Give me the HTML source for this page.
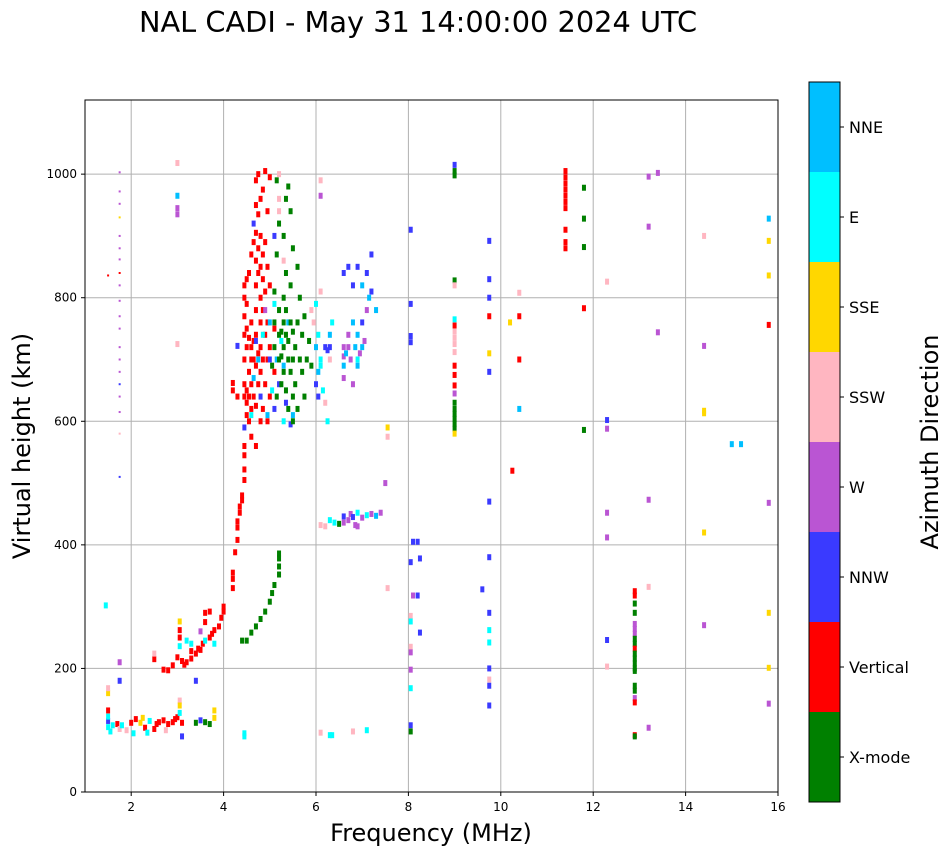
<!DOCTYPE html>
<html><head><meta charset="utf-8"><style>
body{margin:0;background:#fff;font-family:"DejaVu Sans",sans-serif}
svg text{font-family:"DejaVu Sans",sans-serif}
</style></head><body>
<svg id="chart" width="951" height="856" viewBox="0 0 951 856" xmlns="http://www.w3.org/2000/svg">
<text x="418" y="32" font-size="28.8" text-anchor="middle">NAL CADI - May 31 14:00:00 2024 UTC</text>
<g id="grid"></g>
<g id="marks"></g>
<rect x="85" y="100" width="693" height="692" fill="none" stroke="#000" stroke-width="1"/>
<g id="ticks"></g>
<text x="431" y="841" font-size="24" text-anchor="middle">Frequency (MHz)</text>
<text transform="translate(30,446) rotate(-90)" font-size="24" text-anchor="middle">Virtual height (km)</text>
<g id="cbar"></g>
<text transform="translate(938,442) rotate(-90)" font-size="24" text-anchor="middle">Azimuth Direction</text>
</svg>
<script>
const categories=["X-mode","Vertical","NNW","W","SSW","SSE","E","NNE"];
const catColors=["#008000","#ff0000","#3a3aff","#ba55d3","#ffb6c1","#ffd700","#00ffff","#00bfff"];
const xTicks=[2,4,6,8,10,12,14,16];
const yTicks=[0,200,400,600,800,1000];
// [frequency MHz, virtual height km, direction index]
const obs=[
[1.5,105,6],[1.5,115,2],[1.5,122,6],[1.5,132,1],[1.55,98,6],[1.6,108,6],[1.7,110,1],[1.75,102,4],[1.8,108,6],[1.9,100,4],[2.0,112,1],[2.05,95,6],[2.1,118,1],[2.2,112,5],[2.25,120,5],[2.3,104,1],[2.35,96,6],[2.4,115,6],[2.5,102,1],[2.55,110,1],[2.6,113,1],[2.7,116,1],[2.75,100,4],[2.8,110,1],[2.9,113,1],[2.95,118,1],[3.0,121,1],[3.05,128,6],[3.1,112,1],[3.4,112,0],[3.5,116,2],[3.6,113,0],[3.7,110,0],[3.8,120,5],[3.8,132,5],[1.5,160,5],[1.5,168,4],[1.45,302,6],[3.05,148,4],[3.05,140,5],[3.1,90,2],[4.45,95,6],[4.45,90,6],[6.3,92,6],[6.35,92,6],[6.1,96,4],[6.8,98,4],[7.1,100,6],
[2.5,215,1],[2.5,224,4],[2.7,198,1],[2.8,197,1],[2.9,205,1],[3.0,218,1],[3.05,236,6],[3.05,250,1],[3.05,262,1],[3.05,276,5],[3.1,212,1],[3.15,206,1],[3.2,210,1],[3.3,216,1],[3.3,240,6],[3.4,224,1],[3.45,232,1],[3.5,230,1],[3.5,260,3],[3.55,240,1],[3.6,245,6],[3.6,275,1],[3.6,290,1],[3.7,250,1],[3.75,256,1],[3.8,262,1],[3.8,240,6],[3.9,268,1],[3.95,282,1],[4.0,292,1],[4.0,300,1],[3.7,292,1],[3.4,180,2],[3.3,228,1],[3.2,245,6],
[4.2,330,1],[4.2,345,1],[4.2,355,1],[4.25,388,1],[4.3,408,1],[4.3,428,1],[4.3,438,1],[4.35,452,1],[4.35,462,1],[4.4,472,1],[4.4,480,1],[4.45,505,1],[4.45,522,1],[4.45,545,1],[4.45,560,1],[4.45,590,2],[4.2,650,1],[4.2,662,1],[4.3,640,1],[4.3,722,2],
[4.4,245,0],[4.5,245,0],[4.6,258,0],[4.7,268,0],[4.8,280,0],[4.9,292,0],[5.0,308,0],[5.05,322,0],[5.1,335,0],[5.2,352,0],[5.2,365,0],[5.2,378,0],[5.2,386,0],
[4.45,640,1],[4.45,660,1],[4.45,700,1],[4.45,740,1],[4.45,770,1],[4.45,800,1],[4.45,820,1],[4.5,610,1],[4.5,630,1],[4.5,650,1],[4.5,720,1],[4.5,750,1],[4.5,790,1],[4.5,830,1],[4.55,600,1],[4.55,640,1],[4.55,680,1],[4.55,735,1],[4.55,840,1],[4.6,575,1],[4.6,620,1],[4.6,660,1],[4.6,700,1],[4.6,720,1],[4.6,760,1],[4.6,870,1],[4.65,640,1],[4.65,700,1],[4.65,730,1],[4.65,890,1],[4.65,920,2],[4.7,560,1],[4.7,625,1],[4.7,690,1],[4.7,740,1],[4.7,780,1],[4.7,820,1],[4.7,860,1],[4.7,905,1],[4.7,950,1],[4.7,990,1],[4.75,710,1],[4.75,660,1],[4.75,840,1],[4.75,880,1],[4.75,935,1],[4.75,1000,1],[4.8,600,1],[4.8,680,1],[4.8,720,1],[4.8,760,1],[4.8,800,1],[4.8,850,1],[4.8,900,1],[4.8,960,1],[4.85,620,1],[4.85,700,1],[4.85,780,1],[4.85,830,1],[4.85,870,1],[4.85,975,1],[4.9,660,1],[4.9,740,1],[4.9,810,1],[4.9,890,1],[4.9,1005,1],[4.95,600,1],[4.95,700,1],[4.95,760,1],[4.95,850,1],[4.95,940,1],[5.0,640,1],[5.0,720,1],[5.0,820,1],[5.0,995,1],[5.1,680,1],[5.1,750,1],[5.1,900,2],
[4.6,610,6],[4.65,670,7],[4.7,730,2],[4.75,700,7],[4.8,640,2],[4.85,740,6],[4.9,780,3],[4.95,610,7],[5.0,700,2],[5.0,760,7],[5.05,650,6],[5.1,620,2],[5.1,790,6],[5.15,700,7],[5.2,660,2],[5.2,940,4],[5.2,960,4],[5.2,1000,4],[5.25,730,6],[5.3,690,7],[5.3,860,4],[5.4,760,7],[5.35,630,2],[5.45,595,2],[5.5,610,7],[5.3,600,6],
[5.05,690,0],[5.1,720,0],[5.1,760,0],[5.1,810,0],[5.15,640,0],[5.15,870,0],[5.15,990,0],[5.2,700,0],[5.2,740,0],[5.2,780,0],[5.2,920,0],[5.25,660,0],[5.25,705,0],[5.25,745,0],[5.3,680,0],[5.3,720,0],[5.3,760,0],[5.3,800,0],[5.3,900,0],[5.35,650,0],[5.35,740,0],[5.35,780,0],[5.35,840,0],[5.35,960,0],[5.4,700,0],[5.4,730,0],[5.4,620,0],[5.45,680,0],[5.45,760,0],[5.45,820,0],[5.5,640,0],[5.5,700,0],[5.5,745,0],[5.5,880,0],[5.55,660,0],[5.55,720,0],[5.6,760,0],[5.6,850,0],[5.6,620,0],[5.65,700,0],[5.65,800,0],[5.7,740,0],[5.7,680,0],[5.75,640,0],[5.75,770,0],[5.8,700,0],[5.85,730,0],[5.9,690,0],[5.5,600,0],[5.45,940,0],[5.4,980,0],
[5.9,780,4],[5.95,760,4],[6.0,720,7],[6.05,740,6],[6.1,700,6],[6.1,690,6],[6.0,660,2],[6.05,680,7],[6.15,650,6],[6.2,720,2],[6.25,715,2],[6.3,720,2],[6.35,760,6],[6.3,740,7],[6.0,790,6],[6.1,810,4],[6.2,630,4],[6.25,600,6],[6.05,640,2],[6.3,700,4],[6.1,990,4],[6.1,965,3],
[6.6,670,3],[6.6,690,7],[6.6,705,3],[6.6,720,3],[6.6,840,2],[6.65,710,7],[6.7,720,3],[6.7,740,3],[6.75,700,3],[6.8,660,3],[6.8,760,7],[6.8,820,2],[6.85,720,7],[6.9,700,6],[6.9,690,7],[6.9,740,7],[6.95,710,3],[7.0,760,2],[7.0,720,7],[7.05,730,3],[7.0,820,7],[7.1,780,3],[7.1,840,2],[7.15,800,7],[7.2,870,2],[7.2,810,2],[6.7,850,2],[6.9,850,2],[7.3,780,7],
[6.1,432,4],[6.2,430,4],[6.3,440,6],[6.4,436,6],[6.5,434,0],[6.6,446,2],[6.6,436,3],[6.7,440,3],[6.75,450,3],[6.8,445,2],[6.85,432,3],[6.9,430,3],[6.9,452,6],[7.0,444,3],[7.1,448,6],[7.2,450,3],[7.3,447,7],[7.4,452,3],[7.5,500,3],[7.55,575,4],[7.55,590,5],[7.55,330,4],
[8.1,405,2],[8.2,405,2],[8.25,378,2],[8.05,372,2],[8.1,318,3],[8.2,318,2],[8.05,285,4],[8.05,276,6],[8.25,258,2],[8.05,235,4],[8.05,226,3],[8.05,198,3],[8.05,168,6],[8.05,108,2],[8.05,98,0],[8.05,910,2],[8.05,790,2],[8.05,738,2],[8.05,728,2],
[9.0,1015,2],[9.0,1005,0],[9.0,998,0],[9.0,828,0],[9.0,820,4],[9.0,765,6],[9.0,755,1],[9.0,745,4],[9.0,735,4],[9.0,725,4],[9.0,712,4],[9.0,690,1],[9.0,675,1],[9.0,658,1],[9.0,645,3],[9.0,630,0],[9.0,620,0],[9.0,612,0],[9.0,604,0],[9.0,596,0],[9.0,588,0],[9.0,580,5],
[9.6,328,2],[9.75,892,2],[9.75,830,2],[9.75,800,2],[9.75,770,1],[9.75,710,5],[9.75,680,2],[9.75,470,2],[9.75,380,2],[9.75,290,2],[9.75,262,6],[9.75,242,6],[9.75,200,2],[9.75,182,4],[9.75,172,2],[9.75,140,2],[10.2,760,5],[10.4,770,1],[10.4,808,4],[10.4,700,1],[10.4,620,7],[10.25,520,1],
[11.4,1005,1],[11.4,995,1],[11.4,985,1],[11.4,975,1],[11.4,965,1],[11.4,955,1],[11.4,945,1],[11.4,910,1],[11.4,890,1],[11.4,880,1],[11.8,978,0],[11.8,928,0],[11.8,882,0],[11.8,783,1],[11.8,586,0],
[12.3,826,4],[12.3,602,2],[12.3,588,3],[12.3,452,3],[12.3,412,3],[12.3,246,2],[12.3,203,4],
[12.9,325,1],[12.9,318,1],[12.9,305,0],[12.9,290,0],[12.9,272,3],[12.9,264,3],[12.9,256,3],[12.9,248,0],[12.9,240,0],[12.9,232,1],[12.9,224,0],[12.9,216,0],[12.9,208,0],[12.9,200,0],[12.9,196,0],[12.9,172,0],[12.9,164,0],[12.9,152,3],[12.9,145,1],[12.9,92,1],[12.9,90,0],[13.2,332,4],[13.2,473,3],[13.2,915,3],[13.2,996,3],[13.4,1002,3],[13.4,744,3],[13.2,104,3],
[14.4,900,4],[14.4,722,3],[14.4,617,5],[14.4,613,5],[14.4,420,5],[14.4,270,3],[15.0,563,7],[15.2,563,7],
[15.8,928,7],[15.8,892,5],[15.8,836,5],[15.8,756,1],[15.8,468,3],[15.8,290,5],[15.8,201,5],[15.8,143,3],
[1.75,1003,3],[1.75,972,3],[1.75,952,3],[1.75,930,5],[1.75,900,3],[1.75,880,3],[1.75,862,3],[1.75,840,1],[1.75,820,3],[1.75,795,3],[1.75,770,3],[1.75,750,3],[1.75,720,3],[1.75,700,3],[1.75,680,3],[1.75,660,2],[1.75,640,3],[1.75,615,3],[1.75,580,4],[1.75,510,2],[1.75,210,3],[1.75,180,2],[1.5,836,1],[3.0,1018,4],[3.0,965,7],[3.0,945,3],[3.0,935,3],[3.0,725,4]
];
const X0=85,X1=778,Y0=792,Y1=100,xMin=1,xMax=16,yMin=0,yMax=1120;
const xs=f=>X0+(f-xMin)/(xMax-xMin)*(X1-X0);
const ys=h=>Y0-(h-yMin)/(yMax-yMin)*(Y0-Y1);
const NS="http://www.w3.org/2000/svg";
function mk(tag,attrs,parent){const e=document.createElementNS(NS,tag);for(const k in attrs)e.setAttribute(k,attrs[k]);parent.appendChild(e);return e;}
const grid=document.getElementById('grid'),ticks=document.getElementById('ticks'),marks=document.getElementById('marks'),cbar=document.getElementById('cbar');
xTicks.forEach(t=>{const x=xs(t);
 const g=mk('line',{x1:x,x2:x,y1:Y1,y2:Y0,stroke:'#b0b0b0','stroke-width':1},grid);
 
 
 mk('line',{x1:x,x2:x,y1:Y0,y2:Y0+4,stroke:'#000'},ticks);
 const l=mk('text',{x:x,y:Y0+19,'font-size':12,'text-anchor':'middle'},ticks);l.textContent=t;
 
 
});
yTicks.forEach(t=>{const y=ys(t);
 const g=mk('line',{x1:X0,x2:X1,y1:y,y2:y,stroke:'#b0b0b0','stroke-width':1},grid);
 
 
 mk('line',{x1:X0-4,x2:X0,y1:y,y2:y,stroke:'#000'},ticks);
 const l=mk('text',{x:X0-8,y:y+4,'font-size':12,'text-anchor':'end'},ticks);l.textContent=t;
 
 
});
obs.forEach(o=>{
 const thin=(o[0]<1.8&&o[1]>500);
 const r=mk('rect',{x:xs(o[0])-(thin?1:2),y:ys(o[1])-(thin?1:3),width:thin?2:4,height:thin?2:6,fill:catColors[o[2]]},marks);
 
 
});
const CB0=802,CBH=90;
categories.forEach((c,i)=>{const y=CB0-(i+1)*CBH;
 const r=mk('rect',{x:809,y:y,width:31,height:CBH,fill:catColors[i]},cbar);
 
 
 mk('line',{x1:840,x2:844,y1:y+CBH/2,y2:y+CBH/2,stroke:'#000'},cbar);
 const t=mk('text',{x:849,y:y+CBH/2+6,'font-size':16},cbar);t.textContent=c;
 
 
});
mk('rect',{x:809,y:82,width:31,height:720,fill:'none',stroke:'#000'},cbar);
</script>
</body></html>
